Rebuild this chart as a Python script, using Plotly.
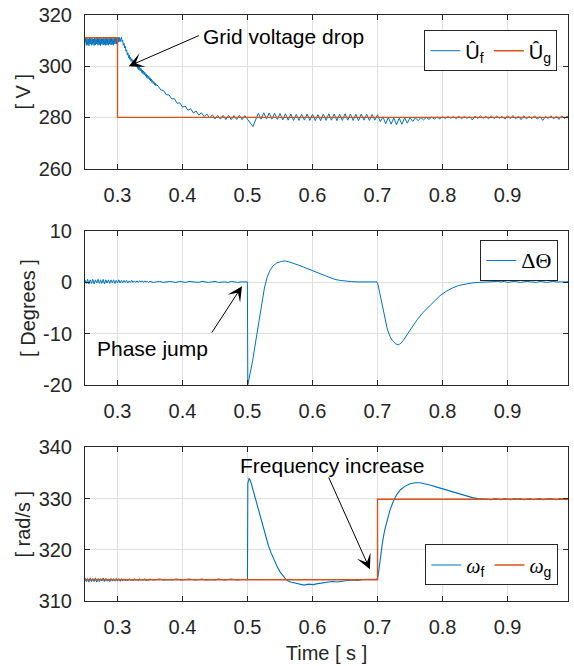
import numpy as np
import plotly.graph_objects as go

# ---------------- data ----------------
# Panel 1: amplitudes [V]
UF_A_T0, UF_A_DT = 0.250, 0.001
UF_A = [309.2, 310.9, 308.1, 311.0, 308.4, 310.7, 308.0, 311.1, 308.6, 310.8,
        308.2, 311.0, 308.5, 310.6, 308.1, 311.2, 308.3, 310.9, 308.7, 311.0,
        308.2, 310.8, 308.4, 311.1, 308.0, 310.9, 308.6, 310.7, 308.3, 311.0,
        308.5, 310.9, 308.1, 311.1, 308.4, 310.8, 308.2, 311.0, 308.6, 310.9,
        308.3, 311.2, 308.5, 310.8, 308.2, 311.0, 308.7, 311.1, 308.6, 311.0,
        309.0, 311.3, 309.4, 311.2, 309.6, 311.0]
UF_B_T0, UF_B_DT = 0.306, 0.001
UF_B = [311.3, 309.6, 310.1, 308.2, 308.9, 307.1, 307.8, 305.9, 306.4, 304.5,
        305.2, 303.4, 304.4, 302.7, 303.6, 301.9, 302.9, 301.4, 302.3, 300.7,
        301.6, 300.1, 301.1, 299.7, 300.7, 299.1, 300.1, 298.5, 299.6, 298.1,
        299.2, 297.6, 298.5, 297.1, 298.1, 296.7, 297.6, 296.1, 297.0, 295.6,
        296.5, 295.2, 296.1, 294.7, 295.5, 294.2, 295.0, 293.7, 294.4, 293.2,
        293.9, 292.8, 293.4, 292.3, 292.8]
UF_C_T0, UF_C_DT = 0.3625, 1.0 / 240.0
UF_C = [292.2, 290.7, 290.5, 288.8, 288.8, 287.2, 287.3, 285.5, 285.7, 284.0,
        284.4, 282.8, 283.4, 281.7, 282.5, 280.9, 281.8, 280.3, 281.3, 279.7,
        281.0, 279.4, 280.7, 279.3, 280.8, 279.1, 280.8, 279.1, 280.7, 279.2,
        280.8, 279.1, 280.7, 279.1, 277.8, 276.4, 279.0, 281.6, 279.3, 281.8,
        279.4, 281.7, 279.3, 281.6, 279.2, 281.5, 279.0, 281.4, 278.9, 281.3,
        278.8, 281.2, 278.8, 281.2, 278.9, 281.3, 278.8, 281.2, 278.7, 281.1,
        278.7, 281.3, 278.8, 281.4, 278.9, 281.3, 278.7, 281.2, 278.8, 281.4,
        278.9, 281.3, 278.8, 281.2, 278.7, 281.3, 278.9, 281.2, 278.8, 281.1,
        278.9, 281.0, 278.3, 280.2, 277.5, 280.0, 277.3, 279.8, 277.1, 279.7,
        277.3, 279.8, 277.7, 279.9, 278.4, 279.8, 278.7, 279.9, 279.0, 280.0,
        279.2, 280.1, 279.3, 280.2, 279.4, 280.3, 279.5, 280.4, 279.6, 280.4,
        279.5, 280.5, 279.4, 280.4, 279.6, 280.3, 279.0, 280.5, 279.5, 280.6,
        279.6, 280.4, 279.4, 280.6, 279.5, 280.5, 279.6, 280.4, 279.3, 280.6,
        279.5, 280.7, 279.4, 280.5, 279.1, 280.6, 279.4, 280.4, 279.5, 280.6,
        279.3, 280.3, 278.8, 280.4, 279.5, 280.6, 279.4, 280.5, 279.2, 280.6,
        279.5, 280.5, 279.6]
UG_T = [0.25, 0.30, 0.996]
UG_V = [311.1, 280.0, 280.0]

# Panel 2: phase difference [deg]
DT_A_T0, DT_A_DT = 0.250, 0.002
DTH_A = [0.5, -0.2, 0.6, -0.3, 0.5, -0.2, 0.6, -0.3, 0.5, -0.1,
         0.6, -0.2, 0.5, -0.2, 0.6, -0.3, 0.5, -0.1, 0.5, -0.2,
         0.5, -0.1, 0.5, -0.2, 0.4, -0.1, 0.5, -0.1, 0.4, -0.1,
         0.4, 0.0, 0.4, -0.1, 0.3, 0.0, 0.4, 0.0, 0.3, 0.0,
         0.3, 0.0, 0.3, 0.1, 0.3, 0.0, 0.3, 0.1, 0.2, 0.0]
DT_B_T0, DT_B_DT = 0.350, 0.005
DTH_B = [0.2, 0.0, 0.1, 0.2, 0.0, 0.1, 0.2, 0.1, 0.0, 0.2,
         0.1, 0.0, 0.2, 0.1, 0.1, 0.0, 0.2, 0.1, 0.0, 0.1,
         0.2, 0.0, 0.1, 0.1, 0.0, 0.2, 0.1, 0.0, 0.1, 0.1]
DTH_C_T = [0.4998, 0.5005, 0.5030, 0.5060, 0.5080, 0.5110, 0.5140, 0.5170, 0.5200, 0.5230,
           0.5260, 0.5300, 0.5340, 0.5390, 0.5450, 0.5520, 0.5580, 0.5640, 0.5700, 0.5780,
           0.5860, 0.5940, 0.6020, 0.6100, 0.6180, 0.6260, 0.6340, 0.6420, 0.6500, 0.6600,
           0.6700, 0.6800, 0.6900, 0.6990,
           0.7005, 0.7030, 0.7060, 0.7090, 0.7120, 0.7150, 0.7190, 0.7230, 0.7280, 0.7320,
           0.7360, 0.7410, 0.7470, 0.7540, 0.7610, 0.7690, 0.7780, 0.7870, 0.7960, 0.8050,
           0.8150, 0.8250, 0.8350, 0.8450, 0.8550, 0.8650, 0.8750, 0.8850]
DTH_C = [0.1, -20.0, -18.6, -16.8, -15.2, -12.8, -10.4, -7.9, -5.4, -3.0,
         -1.1, 0.9, 2.2, 3.2, 3.8, 4.1, 4.2, 4.0, 3.8, 3.4,
         3.0, 2.6, 2.2, 1.7, 1.3, 0.9, 0.6, 0.4, 0.25, 0.15,
         0.1, 0.1, 0.05, 0.1,
         -0.3, -1.8, -3.6, -5.4, -7.6, -9.1, -10.5, -11.4, -12.0, -12.2,
         -11.9, -11.1, -9.9, -8.5, -7.3, -6.0, -4.8, -3.6, -2.6, -1.8,
         -1.1, -0.6, -0.3, -0.1, 0.0, 0.1, 0.2, 0.2]
DT_D_T0, DT_D_DT = 0.890, 0.005
DTH_D = [0.1, 0.2, 0.0, 0.1, 0.2, 0.1, 0.0, 0.1, 0.2, 0.1, 0.1,
         0.0, 0.2, 0.1, 0.0, 0.1, 0.2, 0.1, 0.1, 0.0, 0.1, 0.2]

# Panel 3: angular frequency [rad/s]
WF_A_T0, WF_A_DT = 0.250, 0.002
WF_A = [314.5, 313.8, 314.4, 313.7, 314.5, 313.8, 314.4, 313.8, 314.5, 313.7,
        314.4, 313.8, 314.4, 313.9, 314.5, 313.8, 314.4, 313.9, 314.3, 313.8,
        314.4, 313.9, 314.3, 313.9, 314.4, 314.0, 314.3, 313.9, 314.3, 314.0,
        314.3, 314.0, 314.2, 314.0, 314.3, 314.1, 314.2, 314.0, 314.3, 314.1,
        314.2, 314.0, 314.3, 314.1, 314.2, 314.1, 314.3, 314.0, 314.2, 314.1]
WF_B_T0, WF_B_DT = 0.350, 0.005
WF_B = [314.3, 314.1, 314.2, 314.3, 314.1, 314.2, 314.2, 314.1, 314.3, 314.2,
        314.1, 314.2, 314.3, 314.2, 314.1, 314.2, 314.3, 314.1, 314.2, 314.2,
        314.1, 314.3, 314.2, 314.1, 314.2, 314.3, 314.2, 314.1, 314.2, 314.2]
WF_C_T = [0.4999, 0.5005, 0.5025, 0.5050, 0.5080, 0.5110, 0.5140, 0.5170, 0.5200, 0.5240,
          0.5280, 0.5320, 0.5360, 0.5400, 0.5450, 0.5500, 0.5550, 0.5600, 0.5660, 0.5730,
          0.5800, 0.5870, 0.5940, 0.6010, 0.6080, 0.6150, 0.6220, 0.6300, 0.6380, 0.6460,
          0.6540, 0.6620, 0.6700, 0.6780, 0.6860, 0.6940, 0.6995,
          0.7010, 0.7030, 0.7050, 0.7080, 0.7110, 0.7150, 0.7190, 0.7240, 0.7290, 0.7350,
          0.7420, 0.7500, 0.7580, 0.7660, 0.7740, 0.7820, 0.7900, 0.7980, 0.8060, 0.8140,
          0.8220, 0.8300, 0.8380, 0.8460, 0.8540, 0.8620, 0.8700]
WF_C = [314.2, 333.0, 334.0, 333.3, 331.9, 330.3, 328.8, 327.6, 326.3, 324.3,
        322.5, 320.9, 319.5, 318.3, 316.9, 315.7, 314.8, 314.1, 313.7, 313.5,
        313.3, 313.1, 313.3, 313.2, 313.4, 313.5, 313.6, 313.8, 313.7, 313.9,
        314.0, 314.1, 314.0, 314.2, 314.2, 314.3, 314.3,
        315.0, 317.0, 319.2, 321.8, 323.8, 326.0, 327.7, 329.4, 330.7, 331.7,
        332.4, 332.9, 333.1, 333.1, 332.9, 332.6, 332.3, 332.0, 331.7, 331.3,
        331.0, 330.7, 330.4, 330.2, 330.0, 329.9, 329.9]
WF_D_T0, WF_D_DT = 0.875, 0.005
WF_D = [329.8, 330.0, 329.9, 329.8, 330.0, 329.9, 329.8, 330.0, 329.9, 330.0,
        329.8, 329.9, 330.0, 329.8, 329.9, 330.0, 329.8, 329.9, 330.0, 329.9,
        329.8, 330.0, 329.9, 329.8, 330.0]
WG_T = [0.25, 0.70, 0.996]
WG_V = [314.16, 329.87, 329.87]

X_TICKS = [0.3, 0.4, 0.5, 0.6, 0.7, 0.8, 0.9]
X_TICKTEXT = ["0.3", "0.4", "0.5", "0.6", "0.7", "0.8", "0.9"]
Y1_TICKS = [260, 280, 300, 320]
Y2_TICKS = [-20, -10, 0, 10]
Y2_TICKTEXT = ["-20", "-10", "0", "10"]
Y3_TICKS = [310, 320, 330, 340]


def seg(t0, dt, vals):
    return [round(t0 + i * dt, 6) for i in range(len(vals))]


uf_t = seg(UF_A_T0, UF_A_DT, UF_A) + seg(UF_B_T0, UF_B_DT, UF_B) + seg(UF_C_T0, UF_C_DT, UF_C)
uf_v = UF_A + UF_B + UF_C
dth_t = seg(DT_A_T0, DT_A_DT, DTH_A) + seg(DT_B_T0, DT_B_DT, DTH_B) + DTH_C_T + seg(DT_D_T0, DT_D_DT, DTH_D)
dth_v = DTH_A + DTH_B + DTH_C + DTH_D
wf_t = seg(WF_A_T0, WF_A_DT, WF_A) + seg(WF_B_T0, WF_B_DT, WF_B) + WF_C_T + seg(WF_D_T0, WF_D_DT, WF_D)
wf_v = WF_A + WF_B + WF_C + WF_D

# ---------------- styling ----------------
BLUE = "#0072BD"
ORANGE = "#D95319"
AX = "#262626"
GRID = "#dfdfdf"
FONT = "Liberation Sans, Arial, sans-serif"
SERIF = "Liberation Serif"

fig = go.Figure()
fig.add_trace(go.Scatter(x=uf_t, y=uf_v, mode="lines", line=dict(color=BLUE, width=1),
                         name="Û<sub>f</sub>", xaxis="x", yaxis="y", legend="legend"))
fig.add_trace(go.Scatter(x=UG_T, y=UG_V, mode="lines", line=dict(color=ORANGE, width=1.4, shape="hv"),
                         name="Û<sub>g</sub>", xaxis="x", yaxis="y", legend="legend"))
fig.add_trace(go.Scatter(x=dth_t, y=dth_v, mode="lines", line=dict(color=BLUE, width=1),
                         name=f'<span style="font-family:{SERIF};font-size:22px">ΔΘ</span>',
                         xaxis="x2", yaxis="y2", legend="legend2"))
fig.add_trace(go.Scatter(x=wf_t, y=wf_v, mode="lines", line=dict(color=BLUE, width=1.1),
                         name=f'<span style="font-family:{SERIF};font-style:italic">ω</span><sub>f</sub>',
                         xaxis="x3", yaxis="y3", legend="legend3"))
fig.add_trace(go.Scatter(x=WG_T, y=WG_V, mode="lines", line=dict(color=ORANGE, width=1.4, shape="hv"),
                         name=f'<span style="font-family:{SERIF};font-style:italic">ω</span><sub>g</sub>',
                         xaxis="x3", yaxis="y3", legend="legend3"))

xcommon = dict(range=[0.25, 0.993], tickvals=X_TICKS, ticktext=X_TICKTEXT,
               showgrid=True, gridcolor=GRID, gridwidth=1, zeroline=False,
               showline=True, mirror="ticks", linecolor=AX, linewidth=1,
               ticks="inside", ticklen=5, tickcolor=AX, tickwidth=1,
               tickfont=dict(size=20, color=AX, family=FONT),
               ticklabelstandoff=8, automargin=False)
ycommon = dict(showgrid=True, gridcolor=GRID, gridwidth=1, zeroline=False,
               showline=True, mirror="ticks", linecolor=AX, linewidth=1,
               ticks="inside", ticklen=5, tickcolor=AX, tickwidth=1,
               tickfont=dict(size=20, color=AX, family=FONT),
               ticklabelstandoff=8, automargin=False)

legcommon = dict(bgcolor="white", bordercolor=AX, borderwidth=1,
                 font=dict(size=20, color="black", family=FONT),
                 orientation="h", xanchor="right", yanchor="top",
                 itemclick=False, itemdoubleclick=False)

ann_font = dict(size=21, color="black", family=FONT)
arrow_common = dict(showarrow=True, text="", arrowhead=3, arrowsize=2.5, arrowwidth=1,
                    arrowcolor="black", standoff=0, startstandoff=0)

fig.update_layout(
    width=574, height=666,
    margin=dict(l=85, r=6, t=15, b=65),
    paper_bgcolor="white", plot_bgcolor="white",
    font=dict(family=FONT, color=AX),
    xaxis=dict(domain=[0, 1], anchor="y", **xcommon),
    yaxis=dict(domain=[0.738, 1.0], anchor="x", range=[260, 320], tickvals=Y1_TICKS,
               title=dict(text="[ V ]", font=dict(size=20, color=AX), standoff=2), **ycommon),
    xaxis2=dict(domain=[0, 1], anchor="y2", **xcommon),
    yaxis2=dict(domain=[0.369, 0.631], anchor="x2", range=[-20, 10], tickvals=Y2_TICKS,
                ticktext=Y2_TICKTEXT,
                title=dict(text="[ Degrees ]", font=dict(size=20, color=AX), standoff=2), **ycommon),
    xaxis3=dict(domain=[0, 1], anchor="y3",
                title=dict(text="Time [ s ]", font=dict(size=20, color=AX), standoff=8), **xcommon),
    yaxis3=dict(domain=[0.0, 0.262], anchor="x3", range=[310, 340], tickvals=Y3_TICKS,
                title=dict(text="[ rad/s ]", font=dict(size=20, color=AX), standoff=2), **ycommon),
    legend=dict(x=0.978, y=0.974, **legcommon),
    legend2=dict(x=0.980, y=0.616, **legcommon),
    legend3=dict(x=0.980, y=0.0965, **legcommon),
    annotations=[
        dict(xref="x", yref="y", x=0.429, y=311.5, text="Grid voltage drop", showarrow=False,
             xanchor="left", yanchor="middle", font=ann_font),
        dict(xref="x", yref="y", axref="x", ayref="y", x=0.3173, y=300.0, ax=0.4274, ay=312.2,
             **arrow_common),
        dict(xref="x2", yref="y2", x=0.266, y=-12.9, text="Phase jump", showarrow=False,
             xanchor="left", yanchor="middle", font=ann_font),
        dict(xref="x2", yref="y2", axref="x2", ayref="y2", x=0.4915, y=-0.74, ax=0.4436, ay=-10.1,
             **arrow_common),
        dict(xref="x3", yref="y3", x=0.4857, y=336.5, text="Frequency increase", showarrow=False,
             xanchor="left", yanchor="middle", font=ann_font),
        dict(xref="x3", yref="y3", axref="x3", ayref="y3", x=0.6882, y=316.2, ax=0.6238, ay=334.45,
             **arrow_common),
    ],
)

fig.write_html("out.html", config={"displayModeBar": False},
               post_script="document.body.style.margin='0px';document.body.style.padding='0px';")
